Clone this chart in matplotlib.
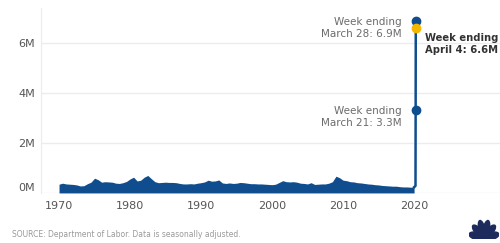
"""
Initial jobless claims, 1970-2020
"""
import numpy as np
import matplotlib.pyplot as plt
from matplotlib.patches import Ellipse

# Half-yearly level of initial claims (millions)
years = [1970 + 0.5 * i for i in range(101)]
claims = [
    0.35, 0.39, 0.36, 0.35, 0.34, 0.32, 0.28, 0.29, 0.37, 0.43,
    0.59, 0.53, 0.43, 0.45, 0.44, 0.43, 0.39, 0.38, 0.41, 0.46,
    0.56, 0.63, 0.48, 0.51, 0.63, 0.70, 0.57, 0.45, 0.41, 0.42,
    0.43, 0.42, 0.42, 0.41, 0.38, 0.36, 0.36, 0.37, 0.36, 0.39,
    0.41, 0.44, 0.51, 0.47, 0.48, 0.52, 0.40, 0.38, 0.40, 0.38,
    0.39, 0.42, 0.41, 0.39, 0.37, 0.37, 0.36, 0.36, 0.35, 0.34,
    0.33, 0.35, 0.42, 0.49, 0.45, 0.44, 0.45, 0.43, 0.39, 0.38,
    0.36, 0.41, 0.34, 0.35, 0.36, 0.36, 0.39, 0.45, 0.67, 0.61,
    0.51, 0.49, 0.45, 0.44, 0.41, 0.40, 0.38, 0.36, 0.35, 0.33,
    0.32, 0.30, 0.29, 0.28, 0.27, 0.27, 0.25, 0.24, 0.24, 0.23,
    0.23,
]

# The March 2020 weeks
week_x = [2020.2, 2020.22, 2020.24]
week_y = [0.28, 3.3, 6.9]
april_x = 2020.26
april_y = 6.6

blue = '#0f4d8f'
yellow = '#f5b700'
grid = '#ececec'

fig = plt.figure(figsize=(5, 2.43), dpi=100)
ax = fig.add_axes([0.082, 0.206, 0.918, 0.761])

ax.fill_between(years, 0, claims, color=blue, linewidth=0)
ax.plot([years[-1]] + week_x, [claims[-1]] + week_y, color=blue, linewidth=1.8)
ax.plot(week_x[1:], week_y[1:], 'o', color=blue, markersize=6)
ax.plot([april_x], [april_y], 'o', color=yellow, markersize=6)

ax.set_xlim(1967.46, 2032.1)
ax.set_ylim(0, 7.4)
ax.set_yticks([0, 2, 4, 6])
ax.set_yticklabels(['0M', '2M', '4M', '6M'])
ax.set_xticks([1970, 1980, 1990, 2000, 2010, 2020])
ax.tick_params(length=0, labelsize=8, labelcolor='#555555')
ax.tick_params(axis='y', pad=4.5)
ax.tick_params(axis='x', pad=6)
ax.yaxis.get_ticklabels()[0].set_va('bottom')
ax.grid(axis='y', color=grid, linewidth=1)
ax.set_axisbelow(True)
for s in ['top', 'right', 'bottom']:
    ax.spines[s].set_visible(False)
ax.spines['left'].set_color(grid)

# Annotations
ax.text(2018.3, 6.6, 'Week ending\nMarch 28: 6.9M', ha='right', va='center',
        fontsize=7.5, color='#6b6b6b', linespacing=1.3)
ax.text(2021.6, 5.95, 'Week ending\nApril 4: 6.6M', ha='left', va='center',
        fontsize=7.2, color='#333333', fontweight='bold', linespacing=1.3)
ax.text(2018.3, 3.05, 'Week ending\nMarch 21: 3.3M', ha='right', va='center',
        fontsize=7.5, color='#6b6b6b', linespacing=1.3)

fig.text(0.024, 0.033, 'SOURCE: Department of Labor. Data is seasonally adjusted.',
         fontsize=5.5, color='#999999', va='center')

# Peacock logo in the corner
logo = fig.add_axes([0.938, 0.015, 0.06, 0.085])
logo.set_xlim(-1.2, 1.2)
logo.set_ylim(-0.1, 1.3)
logo.axis('off')
for ang in [12, 43, 74, 106, 137, 168]:
    r = np.deg2rad(ang)
    logo.add_patch(Ellipse((0.62 * np.cos(r), 0.62 * np.sin(r)), 1.2, 0.48,
                           angle=ang, color='#1d2b5c'))

plt.savefig('out.png', dpi=100)
